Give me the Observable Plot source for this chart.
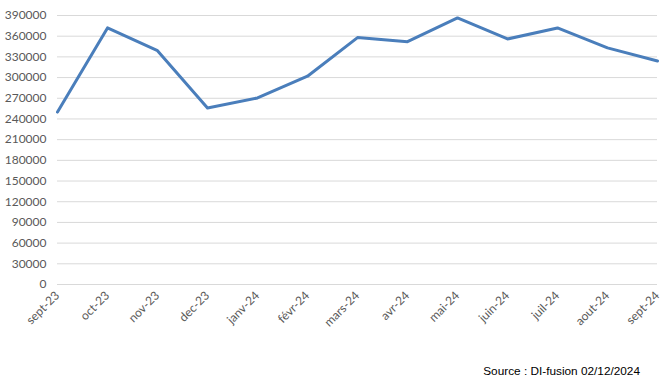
<!DOCTYPE html>
<html><head><meta charset="utf-8">
<script src="https://cdn.jsdelivr.net/npm/d3@7"></script>
<script src="https://cdn.jsdelivr.net/npm/@observablehq/plot@0.6"></script>
<style>
body{margin:0;background:#fff;}
#cap{font-family:"Liberation Sans",Arial,sans-serif;font-size:11.8px;color:#000;text-align:right;padding-right:21px;margin-top:19px;}
</style>
</head><body>
<div id="chart"></div>
<div id="cap">Source : DI-fusion 02/12/2024</div>
<script>
const months = ["sept-23","oct-23","nov-23","dec-23","janv-24","févr-24","mars-24","avr-24","mai-24","juin-24","juil-24","aout-24","sept-24"];
const values = [250000,372000,339000,256000,270500,302000,358000,352000,386500,356000,372000,343000,324000];
const yTicks = [0,30000,60000,90000,120000,150000,180000,210000,240000,270000,300000,330000,360000,390000];
const data = months.map((m,i)=>({month:m, value:values[i]}));
const chart = Plot.plot({
  width:661, height:345,
  marginLeft:57, marginRight:4, marginTop:15, marginBottom:61,
  style:{fontFamily:"Lato, sans-serif", fontSize:"12px", color:"#595959", background:"#fff"},
  x:{type:"point", domain:months, padding:0, label:null},
  y:{domain:[0,390000], label:null},
  marks:[
    Plot.ruleY(yTicks,{stroke:"#d9d9d9", strokeWidth:1, strokeOpacity:1}),
    Plot.axisY({ticks:yTicks, tickSize:0, tickPadding:11, tickFormat:d=>String(d), label:null}),
    Plot.axisX({tickSize:0, tickPadding:9, tickRotate:-45, label:null}),
    Plot.line(data,{x:"month", y:"value", stroke:"#4a7ebb", strokeWidth:3})
  ]
});
document.getElementById("chart").append(chart);
</script>
</body></html>
